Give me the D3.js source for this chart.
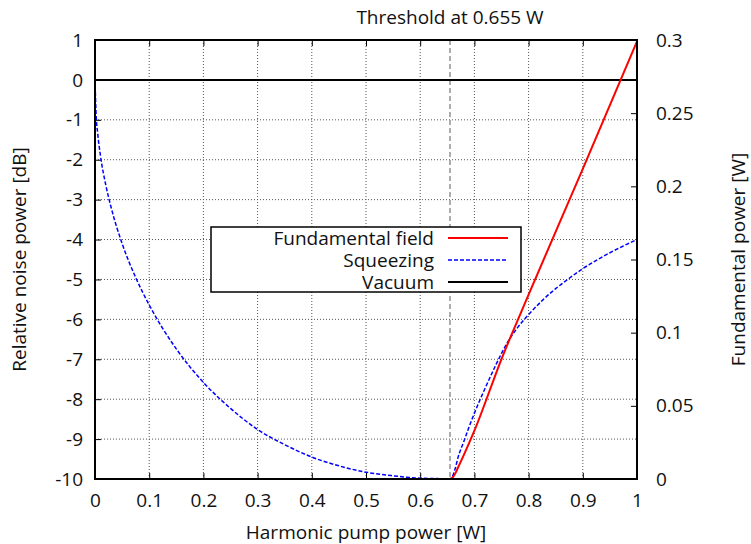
<!DOCTYPE html>
<html><head><meta charset="utf-8">
<script src="https://cdn.jsdelivr.net/npm/d3@7"></script>
<style>
body{margin:0;background:#fff;}
text{font-family:"Open Sans",sans-serif;fill:#111;}
</style></head>
<body><svg id="c" width="751" height="544"></svg>
<script>
// ---- data ----
const xTicks = [0,0.1,0.2,0.3,0.4,0.5,0.6,0.7,0.8,0.9,1];
const yTicks = [-10,-9,-8,-7,-6,-5,-4,-3,-2,-1,0,1];
const y2Ticks = [0,0.05,0.1,0.15,0.2,0.25,0.3];
const threshold = 0.655;
const pumpSq = [0,0.002,0.005,0.01,0.02,0.03,0.05,0.075,0.1,0.15,0.2,0.25,0.3,0.35,0.4,0.45,0.5,0.55,0.6,0.63,0.655,0.66,0.665,0.67,0.68,0.69,0.7,0.72,0.74,0.76,0.78,0.8,0.825,0.85,0.875,0.9,0.925,0.95,0.975,1.0];
const squeezing = [0,-0.86,-1.34,-1.89,-2.64,-3.21,-4.10,-4.95,-5.64,-6.74,-7.58,-8.23,-8.76,-9.14,-9.45,-9.67,-9.83,-9.92,-9.98,-9.99,-10,-9.92,-9.72,-9.45,-9.08,-8.7,-8.35,-7.72,-7.13,-6.6,-6.2,-5.88,-5.53,-5.23,-4.97,-4.73,-4.52,-4.33,-4.16,-4.0];
const pumpFund = [0,0.655,0.66,0.665,0.67,0.68,0.7,0.75,0.8,0.9,1.0];
const fundamental = [0,0,0.001,0.004,0.008,0.016,0.033,0.082,0.126,0.212,0.299];
const vacuumX = [0,1];
const vacuum = [0,0];
const legendLabels = ["Fundamental field","Squeezing","Vacuum"];

// ---- layout ----
const svg = d3.select("#c");
const L=95, R=637, T=40, B=479;
const x = d3.scaleLinear().domain([0,1]).range([L,R]);
const y = d3.scaleLinear().domain([-10,1]).range([B,T]);
const y2 = d3.scaleLinear().domain([0,0.3]).range([B,T]);
const fs = 19;
const fmt = d => String(+d.toFixed(2));

// grid
const grid = svg.append("g").attr("stroke","#555").attr("stroke-width",1).attr("stroke-dasharray","1,2");
xTicks.slice(1,-1).forEach(v=>grid.append("line").attr("x1",x(v)).attr("x2",x(v)).attr("y1",T).attr("y2",B));
yTicks.slice(1,-1).forEach(v=>grid.append("line").attr("x1",L).attr("x2",R).attr("y1",y(v)).attr("y2",y(v)));

// axes with inward ticks
const ax = d3.axisBottom(x).tickValues(xTicks).tickSize(-6).tickPadding(15).tickFormat(fmt);
const gx = svg.append("g").attr("transform",`translate(0,${B})`).call(ax);
const axT = d3.axisTop(x).tickValues(xTicks).tickSize(-6).tickFormat("");
const gxt = svg.append("g").attr("transform",`translate(0,${T})`).call(axT);
const ayL = d3.axisLeft(y).tickValues(yTicks).tickSize(-6).tickPadding(12).tickFormat(fmt);
const gy = svg.append("g").attr("transform",`translate(${L},0)`).call(ayL);
const ayR = d3.axisRight(y2).tickValues(y2Ticks).tickSize(-6).tickPadding(19).tickFormat(fmt);
const gy2 = svg.append("g").attr("transform",`translate(${R},0)`).call(ayR);
[gx,gxt,gy,gy2].forEach(g=>{
  g.select(".domain").remove();
  g.selectAll(".tick line").attr("stroke","#000").attr("stroke-width",1);
  g.selectAll("text").attr("font-family","Open Sans").attr("font-size",fs).attr("fill","#111");
});
gx.selectAll("text").attr("dy","0.71em");

// threshold line
svg.append("line").attr("x1",x(threshold)).attr("x2",x(threshold)).attr("y1",T).attr("y2",B)
  .attr("stroke","#999").attr("stroke-width",1.6).attr("stroke-dasharray","5,3");

// vacuum
const lineV = d3.line().x((d,i)=>x(vacuumX[i])).y(d=>y(d));
svg.append("path").datum(vacuum).attr("d",lineV).attr("fill","none").attr("stroke","#000").attr("stroke-width",2);

// squeezing
const lineS = d3.line().x((d,i)=>x(pumpSq[i])).y(d=>y(d)).curve(d3.curveMonotoneX);
svg.append("path").datum(squeezing).attr("d",lineS).attr("fill","none").attr("stroke","#0000ff").attr("stroke-width",1.5).attr("stroke-dasharray","4,2");

// fundamental
const lineF = d3.line().x((d,i)=>x(pumpFund[i])).y(d=>y2(d)).curve(d3.curveMonotoneX);
svg.append("path").datum(fundamental).attr("d",lineF).attr("fill","none").attr("stroke","#ff0000").attr("stroke-width",2);

// frame
svg.append("rect").attr("x",L).attr("y",T).attr("width",R-L).attr("height",B-T).attr("fill","none").attr("stroke","#000").attr("stroke-width",2);

// legend
const lg = svg.append("g");
lg.append("rect").attr("x",211).attr("y",227).attr("width",310).attr("height",65).attr("fill","#fff").attr("stroke","#000").attr("stroke-width",1.5);
const lstyles = [{c:"#ff0000",w:2,d:null},{c:"#0000ff",w:1.5,d:"4,2"},{c:"#000",w:2,d:null}];
legendLabels.forEach((t,i)=>{
  const cy = 238 + i*22;
  lg.append("text").attr("x",434).attr("y",cy).attr("dy","0.35em").attr("text-anchor","end").attr("font-size",fs).text(t);
  lg.append("line").attr("x1",448).attr("x2",508).attr("y1",cy).attr("y2",cy)
    .attr("stroke",lstyles[i].c).attr("stroke-width",lstyles[i].w).attr("stroke-dasharray",lstyles[i].d);
});

// titles
svg.append("text").attr("x",x(threshold)).attr("y",24).attr("text-anchor","middle").attr("font-size",fs).text("Threshold at 0.655 W");
svg.append("text").attr("x",(L+R)/2).attr("y",539).attr("text-anchor","middle").attr("font-size",fs).text("Harmonic pump power [W]");
svg.append("text").attr("transform",`translate(26,${(T+B)/2}) rotate(-90)`).attr("text-anchor","middle").attr("font-size",fs).text("Relative noise power [dB]");
svg.append("text").attr("transform",`translate(745,${(T+B)/2}) rotate(-90)`).attr("text-anchor","middle").attr("font-size",fs).text("Fundamental power [W]");
</script></body></html>
